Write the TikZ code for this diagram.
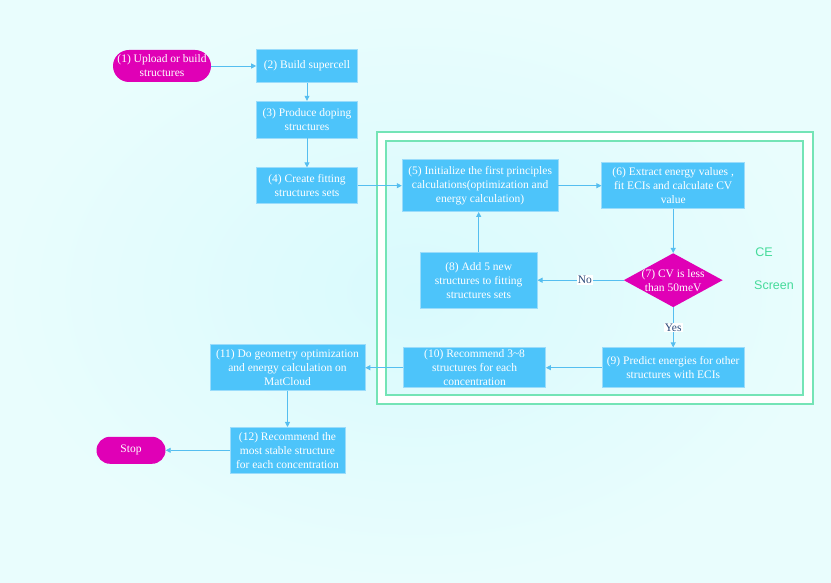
\documentclass[tikz,border=0pt]{standalone}
\usepackage{fontspec}
\setmainfont{Liberation Serif}
\newfontfamily\labelsans{Liberation Sans}
\usetikzlibrary{positioning,arrows.meta,shapes.geometric}
\definecolor{flowBlue}{HTML}{4DC4FA}
\definecolor{flowEdge}{HTML}{9ADCFB}
\definecolor{flowArrow}{HTML}{55BEF0}
\definecolor{flowMagenta}{HTML}{E000B6}
\definecolor{frameGreen}{HTML}{74E4B6}
\definecolor{labelGreen}{HTML}{45DB9A}
\definecolor{bgInner}{HTML}{D9FAFD}
\definecolor{bgOuter}{HTML}{E9FDFD}
\definecolor{answerText}{HTML}{2C4A7A}
\tikzset{
  stepbox/.style={draw=flowEdge, fill=flowBlue, text=white, align=center,
                  font=\fontsize{11.5}{14}\selectfont, inner xsep=2pt,
                  inner ysep=1pt, line width=0.6pt},
  termnode/.style={fill=flowMagenta, text=white, align=center,
                   font=\fontsize{11.5}{14}\selectfont, inner sep=1pt},
  decision/.style={diamond, fill=flowMagenta, text=white, align=center,
                   font=\fontsize{11.5}{14}\selectfont, inner xsep=-4pt,
                   inner ysep=-2pt, aspect=1.83},
  flowarrow/.style={draw=flowArrow, line width=0.8pt,
                    -{Triangle[length=5pt, width=5pt]}},
  answer/.style={fill=white, text=answerText, inner sep=1pt,
                 font=\fontsize{11.5}{14}\selectfont},
  framelabel/.style={text=labelGreen, font=\labelsans\fontsize{12.5}{15}\selectfont},
  ceframe/.style={draw=frameGreen, line width=1.3pt},
}
\begin{document}
\begin{tikzpicture}[x=1pt, y=1pt]
%% Canvas
\shade[inner color=bgInner, outer color=bgOuter] (0,0) rectangle (831,583);
\useasboundingbox (0,0) rectangle (831,583);
%% CE screen frame
\fill[white, even odd rule] (377,179) rectangle (813,451) (386,188) rectangle (803,442);
\draw[ceframe] (377,179) rectangle (813,451);
\draw[ceframe] (386,188) rectangle (803,442);
\node[framelabel] (celabel) at (764,331) {CE};
\node[framelabel] (screenlabel) at (774,298) {Screen};
%% Nodes
\node[termnode, minimum width=98pt, minimum height=32pt, rounded corners=16pt] (upload) at (162,517) {(1) Upload or build\\structures};
\node[stepbox, minimum width=101pt, minimum height=33pt, right=45pt of upload] (supercell) {(2) Build supercell};
\node[stepbox, minimum width=101pt, minimum height=37pt, below=18pt of supercell] (doping) {(3) Produce doping\\structures};
\node[stepbox, minimum width=101pt, minimum height=36pt, below=29pt of doping] (fitset) {(4) Create fitting\\structures sets};
\node[stepbox, minimum width=156pt, minimum height=52pt, right=44pt of fitset] (init) {(5) Initialize the first principles\\calculations(optimization and\\energy calculation)};
\node[stepbox, minimum width=143pt, minimum height=46pt, right=43pt of init] (extract) {(6) Extract energy values ,\\fit ECIs and calculate CV\\value};
\node[decision, minimum width=99pt, minimum height=54pt, below=44pt of extract] (check) {(7) CV is less\\than 50meV};
\node[stepbox, minimum width=117pt, minimum height=56pt, left=86pt of check] (addnew) {(8) Add 5 new\\structures to fitting\\structures sets};
\node[stepbox, minimum width=142pt, minimum height=40pt, below=40pt of check] (predict) {(9) Predict energies for other\\structures with ECIs};
\node[stepbox, minimum width=142pt, minimum height=40pt, left=56pt of predict] (recommend) {(10) Recommend 3\textasciitilde8\\structures for each\\concentration};
\node[stepbox, minimum width=155pt, minimum height=46pt, left=38pt of recommend] (geomopt) {(11) Do geometry optimization\\and energy calculation on\\MatCloud};
\node[stepbox, minimum width=115pt, minimum height=46pt, below=36pt of geomopt] (stable) {(12) Recommend the\\most stable structure\\for each concentration};
\node[termnode, minimum width=69pt, minimum height=27pt, rounded corners=13.5pt, left=64pt of stable] (stop) {Stop};
%% Edges
\draw[flowarrow] (upload) -- (supercell);
\draw[flowarrow] (supercell) -- (doping);
\draw[flowarrow] (doping) -- (fitset);
\draw[flowarrow] (fitset) -- (init);
\draw[flowarrow] (init) -- (extract);
\draw[flowarrow] (extract) -- (check);
\draw[flowarrow] (check) -- node[answer, pos=0.45] {No} (addnew);
\draw[flowarrow] (addnew.north) -- (addnew.north |- init.south);
\draw[flowarrow] (check) -- node[answer] {Yes} (predict);
\draw[flowarrow] (predict) -- (recommend);
\draw[flowarrow] (recommend) -- (geomopt);
\draw[flowarrow] (geomopt) -- (stable);
\draw[flowarrow] (stable) -- (stop);
\end{tikzpicture}
\end{document}
